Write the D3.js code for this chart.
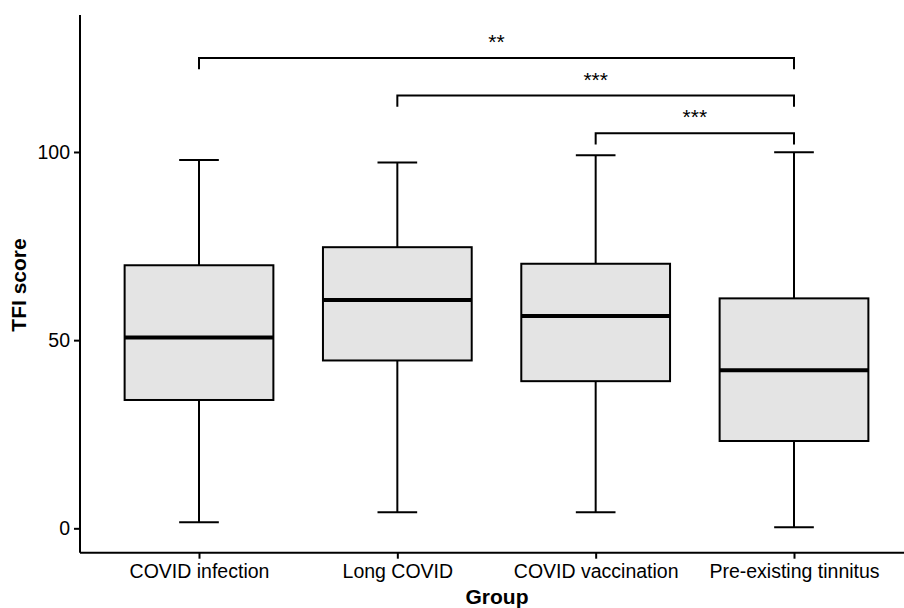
<!DOCTYPE html>
<html>
<head>
<meta charset="utf-8">
<script src="https://cdn.jsdelivr.net/npm/d3@7"></script>
<style>
body{margin:0;background:#fff;}
svg{display:block;font-family:"Liberation Sans",Arial,sans-serif;}
</style>
</head>
<body>
<svg width="904" height="608"></svg>
<script>
// data
var groups = ['COVID infection','Long COVID','COVID vaccination','Pre-existing tinnitus'];
var whiskLo = [1.6, 4.3, 4.3, 0.3];
var q1 = [34.1, 44.6, 39.1, 23.2];
var med = [50.7, 60.7, 56.4, 42.0];
var q3 = [69.9, 74.7, 70.3, 61.1];
var whiskHi = [97.9, 97.2, 99.1, 99.9];
var yTicks = [0, 50, 100];
// significance brackets
var cmpFrom = ['COVID infection','Long COVID','COVID vaccination'];
var cmpTo = ['Pre-existing tinnitus','Pre-existing tinnitus','Pre-existing tinnitus'];
var cmpY = [125, 115, 105];
var cmpLabel = ['**','***','***'];

(function(){
var svg = d3.select('svg');
var left = 80, mTop = 15, bottom = 552.7;

var y = d3.scaleLinear().domain([-6.48, 136.4]).range([bottom, mTop]);
var x = d3.scalePoint().domain(groups).range([left, 913]).padding(0.6);
var step = x.step();
var bw = step*0.75, cw = step*0.2;

var g = svg.append('g');

// boxes + whiskers
groups.forEach(function(d,i){
  var cx = x(d);
  g.append('line').attr('x1',cx).attr('x2',cx).attr('y1',y(q3[i])).attr('y2',y(whiskHi[i]))
    .attr('stroke','#000').attr('stroke-width',2);
  g.append('line').attr('x1',cx).attr('x2',cx).attr('y1',y(q1[i])).attr('y2',y(whiskLo[i]))
    .attr('stroke','#000').attr('stroke-width',2);
  g.append('line').attr('x1',cx-cw/2).attr('x2',cx+cw/2).attr('y1',y(whiskHi[i])).attr('y2',y(whiskHi[i]))
    .attr('stroke','#000').attr('stroke-width',2);
  g.append('line').attr('x1',cx-cw/2).attr('x2',cx+cw/2).attr('y1',y(whiskLo[i])).attr('y2',y(whiskLo[i]))
    .attr('stroke','#000').attr('stroke-width',2);
  g.append('rect').attr('x',cx-bw/2).attr('y',y(q3[i])).attr('width',bw).attr('height',y(q1[i])-y(q3[i]))
    .attr('fill','#e4e4e4').attr('stroke','#000').attr('stroke-width',2);
  g.append('line').attr('x1',cx-bw/2).attr('x2',cx+bw/2).attr('y1',y(med[i])).attr('y2',y(med[i]))
    .attr('stroke','#000').attr('stroke-width',4);
});

// brackets
cmpFrom.forEach(function(d,i){
  var x1 = x(d), x2 = x(cmpTo[i]), yy = y(cmpY[i]), yt = y(cmpY[i]-3);
  g.append('path').attr('d','M'+x1+','+yt+'V'+yy+'H'+x2+'V'+yt)
    .attr('fill','none').attr('stroke','#000').attr('stroke-width',2);
  g.append('text').attr('x',(x1+x2)/2).attr('y',y(cmpY[i]+5)+10)
    .attr('text-anchor','middle').attr('font-size',21).text(cmpLabel[i]);
});

// axes
var ya = svg.append('g').attr('transform','translate('+left+',0)')
  .call(d3.axisLeft(y).tickValues(yTicks).tickSize(6).tickPadding(4));
ya.select('.domain').attr('d','M0,'+mTop+'V'+bottom).attr('stroke-width',2);
ya.selectAll('.tick line').attr('stroke-width',2);
ya.selectAll('.tick text').attr('font-size',19.5).attr('fill','#000').attr('font-family','Liberation Sans, Arial, sans-serif');

var xa = svg.append('g').attr('transform','translate(0,'+bottom+')')
  .call(d3.axisBottom(x).tickSize(6).tickPadding(5));
xa.select('.domain').attr('d','M'+left+',0H904').attr('stroke-width',2);
xa.selectAll('.tick line').attr('stroke-width',2);
xa.selectAll('.tick text').attr('font-size',19.5).attr('fill','#000').attr('font-family','Liberation Sans, Arial, sans-serif');

svg.append('text').attr('x',497).attr('y',604).attr('text-anchor','middle')
  .attr('font-size',21).attr('font-weight','bold').text('Group');
svg.append('text').attr('transform','translate(26,285) rotate(-90)').attr('text-anchor','middle')
  .attr('font-size',21).attr('font-weight','bold').text('TFI score');
})();
</script>
</body>
</html>
